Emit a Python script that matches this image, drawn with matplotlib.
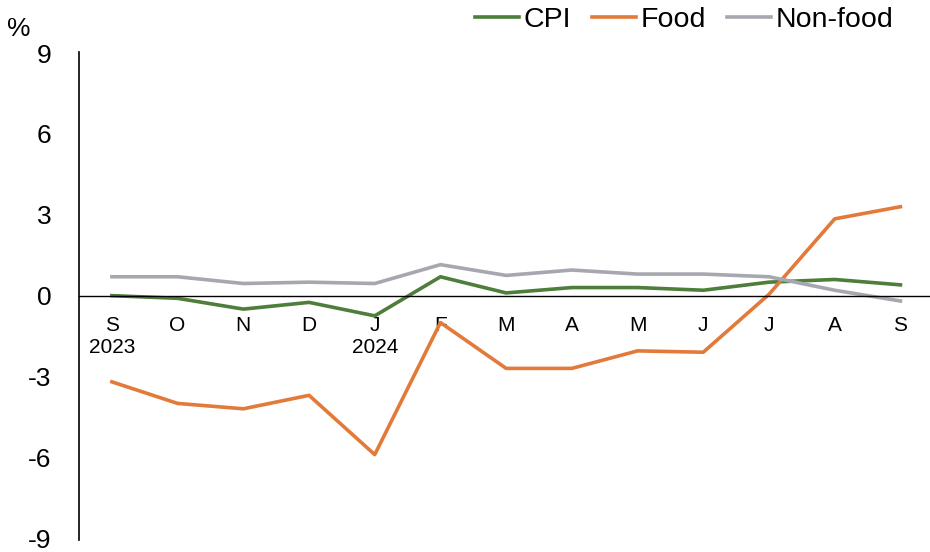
import matplotlib
matplotlib.use("Agg")
import matplotlib.pyplot as plt

plt.rcParams['font.family'] = ['Liberation Sans', 'DejaVu Sans']

months = ["S\n2023", "O", "N", "D", "J\n2024", "F", "M", "A", "M", "J", "J", "A", "S"]
cpi = [0.0, -0.1, -0.5, -0.25, -0.75, 0.7, 0.1, 0.3, 0.3, 0.2, 0.5, 0.6, 0.4]
food = [-3.2, -4.0, -4.2, -3.7, -5.9, -1.0, -2.7, -2.7, -2.05, -2.1, 0.05, 2.85, 3.3]
nonfood = [0.7, 0.7, 0.45, 0.5, 0.45, 1.15, 0.75, 0.95, 0.8, 0.8, 0.7, 0.2, -0.2]

series = [("CPI", cpi, "#4E7E3A"), ("Food", food, "#E27A3A"), ("Non-food", nonfood, "#A7A7AF")]

fig = plt.figure(figsize=(9.3, 5.52), dpi=100)
ax = fig.add_axes([0.085, 0.0217, 0.915, 0.884])

x = list(range(len(months)))
for name, vals, col in series:
    ax.plot(x, vals, color=col, lw=2.6, label=name)

ax.set_xlim(-0.5, 12.45)
ax.set_ylim(-9.07, 9.04)
ax.set_yticks([-9, -6, -3, 0, 3, 6, 9])
ax.set_yticklabels(["-9", "-6", "-3", "0", "3", "6", "9"])
ax.tick_params(axis='y', length=0, labelsize=19, pad=20)

ax.spines['top'].set_visible(False)
ax.spines['right'].set_visible(False)
ax.spines['bottom'].set_position(('data', 0))
ax.spines['bottom'].set_linewidth(1.0)
ax.spines['left'].set_linewidth(1.2)
ax.set_xticks(x)
ax.set_xticklabels(months, fontsize=15, linespacing=1.2)
ax.tick_params(axis='x', length=0, pad=15)

fig.text(0.007, 0.948, "%", fontsize=19, ha='left', va='center')

fig.legend(loc='upper right', bbox_to_anchor=(0.988, 1.033), ncol=3, frameon=False,
           fontsize=20.5, handlelength=1.55, handletextpad=0.15, columnspacing=0.75)

fig.savefig("out.png", dpi=100)
